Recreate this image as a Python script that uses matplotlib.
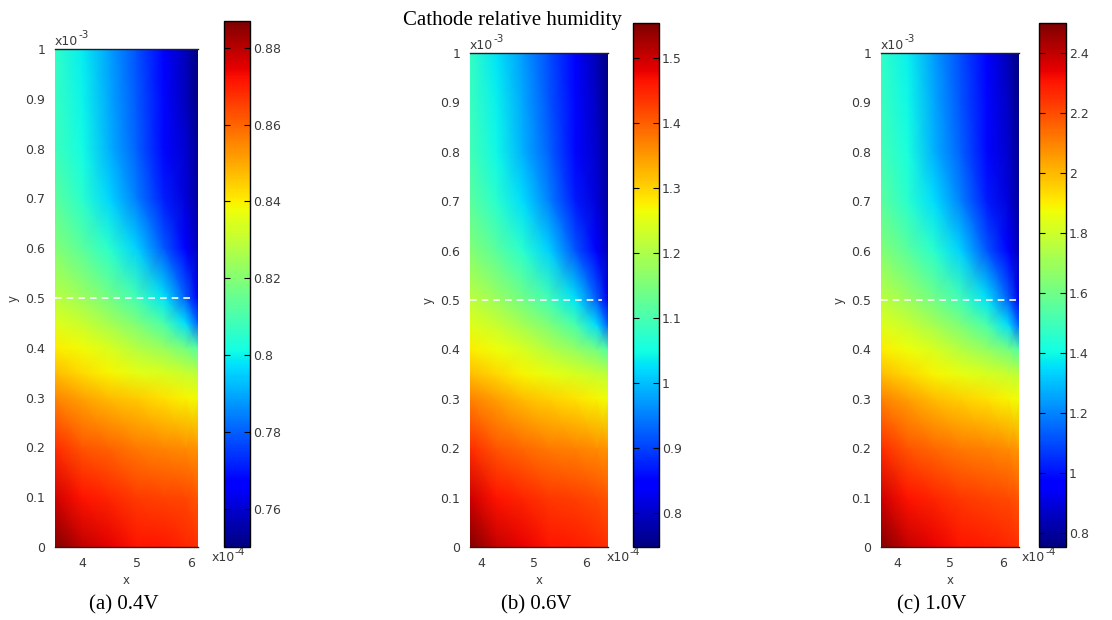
import numpy as np
import matplotlib.pyplot as plt
from matplotlib.ticker import FuncFormatter

# grid nodes: y in units of 1e-3, x in units of 1e-4
y_nodes = [0.0, 0.1, 0.2, 0.3, 0.35, 0.4, 0.45, 0.5, 0.6, 0.7, 0.8, 0.9, 1.0]
x_nodes_a = [3.50, 4.00, 4.50, 5.00, 5.50, 5.90, 6.13]
x_nodes_b = [3.79, 4.29, 4.79, 5.29, 5.79, 6.19, 6.41]
x_nodes_c = [3.70, 4.20, 4.70, 5.20, 5.70, 6.10, 6.30]

# cathode relative humidity (rows = y_nodes, cols = x_nodes)
rh_a = [
    [0.887, 0.879, 0.875, 0.872, 0.871, 0.869, 0.868],
    [0.877, 0.872, 0.869, 0.866, 0.865, 0.864, 0.862],
    [0.868, 0.862, 0.860, 0.857, 0.855, 0.854, 0.853],
    [0.855, 0.851, 0.847, 0.845, 0.842, 0.839, 0.838],
    [0.847, 0.843, 0.839, 0.836, 0.834, 0.831, 0.829],
    [0.840, 0.838, 0.834, 0.828, 0.823, 0.817, 0.812],
    [0.835, 0.831, 0.825, 0.819, 0.810, 0.797, 0.780],
    [0.829, 0.824, 0.817, 0.809, 0.798, 0.780, 0.764],
    [0.820, 0.813, 0.805, 0.795, 0.779, 0.765, 0.757],
    [0.813, 0.805, 0.796, 0.784, 0.771, 0.761, 0.754],
    [0.808, 0.801, 0.791, 0.780, 0.768, 0.760, 0.753],
    [0.807, 0.800, 0.790, 0.779, 0.768, 0.758, 0.751],
    [0.806, 0.799, 0.789, 0.778, 0.766, 0.757, 0.750],
]
rh_b = [
    [1.554, 1.506, 1.481, 1.465, 1.457, 1.449, 1.441],
    [1.498, 1.465, 1.449, 1.433, 1.425, 1.417, 1.409],
    [1.441, 1.409, 1.393, 1.377, 1.369, 1.361, 1.353],
    [1.369, 1.344, 1.320, 1.304, 1.288, 1.272, 1.264],
    [1.320, 1.296, 1.272, 1.256, 1.240, 1.224, 1.215],
    [1.280, 1.264, 1.240, 1.207, 1.175, 1.143, 1.111],
    [1.248, 1.224, 1.191, 1.151, 1.103, 1.022, 0.925],
    [1.215, 1.183, 1.143, 1.095, 1.030, 0.925, 0.829],
    [1.159, 1.119, 1.070, 1.014, 0.917, 0.837, 0.788],
    [1.119, 1.070, 1.022, 0.950, 0.869, 0.812, 0.772],
    [1.095, 1.046, 0.990, 0.925, 0.853, 0.804, 0.764],
    [1.087, 1.038, 0.982, 0.917, 0.853, 0.796, 0.756],
    [1.079, 1.030, 0.974, 0.909, 0.845, 0.788, 0.748],
]
rh_c = [
    [2.500, 2.395, 2.343, 2.308, 2.290, 2.273, 2.255],
    [2.378, 2.308, 2.273, 2.238, 2.220, 2.203, 2.186],
    [2.255, 2.186, 2.151, 2.116, 2.098, 2.081, 2.063],
    [2.098, 2.046, 1.993, 1.958, 1.924, 1.889, 1.871],
    [1.993, 1.941, 1.889, 1.854, 1.819, 1.784, 1.766],
    [1.906, 1.871, 1.819, 1.749, 1.679, 1.609, 1.539],
    [1.836, 1.784, 1.714, 1.627, 1.522, 1.347, 1.137],
    [1.766, 1.696, 1.609, 1.504, 1.364, 1.137, 0.928],
    [1.644, 1.557, 1.452, 1.330, 1.120, 0.945, 0.840],
    [1.557, 1.452, 1.347, 1.190, 1.015, 0.893, 0.805],
    [1.504, 1.417, 1.277, 1.137, 0.980, 0.875, 0.788],
    [1.487, 1.399, 1.260, 1.120, 0.980, 0.858, 0.770],
    [1.469, 1.382, 1.242, 1.102, 0.963, 0.841, 0.753],
]

cb_ticks_a = [0.76, 0.78, 0.80, 0.82, 0.84, 0.86, 0.88]
cb_ticks_b = [0.8, 0.9, 1.0, 1.1, 1.2, 1.3, 1.4, 1.5]
cb_ticks_c = [0.8, 1.0, 1.2, 1.4, 1.6, 1.8, 2.0, 2.2, 2.4]
cut_y = 0.5
cut_x_end = [6.02, 6.30, 6.25]
captions = ['(a) 0.4V', '(b) 0.6V', '(c) 1.0V']

W, H = 1112, 620
fig = plt.figure(figsize=(W / 100, H / 100), dpi=100)
gray = '#3a3a3a'
tfs = 9

def px(l, t, r, b):
    return [l / W, 1 - b / H, (r - l) / W, (b - t) / H]

def exp_label(ax, x, y, power, va):
    # MATLAB style "x10^-n" with a plain hyphen
    t = ax.text(x, y, 'x10', transform=ax.transAxes, ha='left', va=va,
                fontsize=tfs, color=gray)
    ax.annotate(power, xy=(1.0, 0.55), xycoords=t, ha='left', va='bottom',
                fontsize=7.5, color=gray)

# pixel boxes (left, top, right, bottom)
ax_boxes = [(55, 49, 198, 547), (470, 53, 608, 547), (881, 53, 1019, 547)]
cb_boxes = [(224, 21, 250, 547), (633, 23, 659, 547), (1039, 23, 1066, 547)]
xexp_pos = [1.095, 0.99, 1.02]
cap_x = [124, 536, 932]

panels = [(x_nodes_a, rh_a, cb_ticks_a), (x_nodes_b, rh_b, cb_ticks_b),
          (x_nodes_c, rh_c, cb_ticks_c)]

for i, (xn, rh, cbt) in enumerate(panels):
    ax = fig.add_axes(px(*ax_boxes[i]))
    X, Y = np.meshgrid(np.array(xn) * 1e-4, np.array(y_nodes) * 1e-3)
    Z = np.array(rh)
    m = ax.pcolormesh(X, Y, Z, shading='gouraud', cmap='jet',
                      vmin=Z.min(), vmax=Z.max())
    ax.set_xlim(xn[0] * 1e-4, xn[-1] * 1e-4)
    ax.set_ylim(0, 1e-3)
    ax.plot([xn[0] * 1e-4, cut_x_end[i] * 1e-4], [cut_y * 1e-3, cut_y * 1e-3],
            color='white', lw=1.2, ls=(0, (4, 3)))
    ax.set_xticks([4e-4, 5e-4, 6e-4])
    ax.set_yticks(np.arange(0, 11) * 1e-4)
    ax.xaxis.set_major_formatter(FuncFormatter(lambda v, p: '%g' % round(v * 1e4, 6)))
    ax.yaxis.set_major_formatter(FuncFormatter(lambda v, p: '%g' % round(v * 1e3, 6)))
    ax.tick_params(length=0, labelsize=tfs, labelcolor=gray, pad=7)
    ax.spines['left'].set_visible(False)
    ax.spines['right'].set_visible(False)
    for s in ('top', 'bottom'):
        ax.spines[s].set_color('#202020')
        ax.spines[s].set_linewidth(1.0)
    ax.set_xlabel('x', fontsize=8.5, color=gray, labelpad=3)
    ax.set_ylabel('y', fontsize=8.5, color=gray, labelpad=4)
    exp_label(ax, 0, 1.003, '-3', 'bottom')
    exp_label(ax, xexp_pos[i], -0.022, '-4', 'center')

    cax = fig.add_axes(px(*cb_boxes[i]))
    cb = fig.colorbar(m, cax=cax, ticks=cbt)
    cb.ax.set_yticklabels(['%g' % t for t in cbt])
    cb.ax.tick_params(direction='in', left=True, right=True, length=4,
                      width=0.8, labelsize=tfs, labelcolor=gray, pad=2)
    cb.outline.set_linewidth(1.0)
    cb.outline.set_edgecolor('black')

    fig.text(cap_x[i] / W, 1 - 605 / H, captions[i], ha='center', va='center',
             family='Liberation Serif', fontsize=15)

fig.text(512 / W, 1 - 21 / H, 'Cathode relative humidity', ha='center',
         va='center', family='Liberation Serif', fontsize=15)

fig.savefig('out.png', dpi=100)
